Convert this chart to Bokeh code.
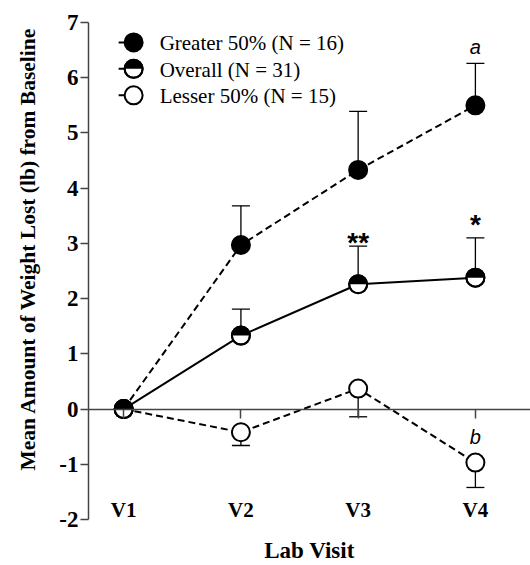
import numpy as np
from bokeh.plotting import figure
from bokeh.models import Range1d, FixedTicker, LinearAxis, Title
from bokeh.core.properties import value
from bokeh.embed import file_html
from bokeh.resources import INLINE

# ---------------- data ----------------
VISITS = ["V1", "V2", "V3", "V4"]
VISIT_X = [1, 2, 3, 4]
GREATER_MEAN = [0.0, 2.97, 4.33, 5.50]
GREATER_SE = [0.0, 0.71, 1.06, 0.76]
OVERALL_MEAN = [0.0, 1.33, 2.26, 2.38]
OVERALL_SE = [0.0, 0.48, 0.69, 0.72]
LESSER_MEAN = [0.0, -0.42, 0.37, -0.97]
LESSER_SE = [0.0, 0.24, 0.51, 0.45]
Y_TICKS = [-2, -1, 0, 1, 2, 3, 4, 5, 6, 7]
Y_TICK_LABELS = ["-2", "-1", "0", "1", "2", "3", "4", "5", "6", "7"]
SERIES_LABELS = ["Greater 50% (N = 16)", "Overall (N = 31)", "Lesser 50% (N = 15)"]
ANNOT_TEXT = ["a", "**", "*", "b"]
ANNOT_SERIES = ["greater", "overall", "overall", "lesser"]
ANNOT_VISIT = [4, 3, 4, 4]
ANNOT_ANCHOR = ["top", "top", "top", "mean"]

# ---------------- styles ----------------
SERIF = value("Liberation Serif")
SANS = value("Liberation Sans")
AXIS_COLOR = "#444444"
MARKER_SIZE = 18
ANNOT_OFFSET = [-16, -4, -13, -26]

X_START, X_END = 0.70, 4.47
Y_START, Y_END = -2, 7

p = figure(width=530, height=565,
           x_range=Range1d(X_START, X_END), y_range=Range1d(Y_START, Y_END),
           output_backend="svg", toolbar_location=None,
           min_border_left=88, min_border_right=0, min_border_top=22, min_border_bottom=46)
p.grid.visible = False
p.outline_line_color = None
p.background_fill_color = "white"
p.border_fill_color = "white"

# y axis
p.yaxis.ticker = FixedTicker(ticks=Y_TICKS)
p.yaxis.major_label_overrides = {t: s for t, s in zip(Y_TICKS, Y_TICK_LABELS)}
p.yaxis.major_label_text_font = "Liberation Serif"
p.yaxis.major_label_text_font_style = "bold"
p.yaxis.major_label_text_font_size = "23px"
p.yaxis.major_label_text_color = "black"
p.yaxis.major_tick_in = 0
p.yaxis.major_tick_out = 8
p.yaxis.major_label_standoff = 2
p.yaxis.minor_tick_line_color = None
p.yaxis.axis_line_color = AXIS_COLOR
p.yaxis.axis_line_width = 1.5
p.yaxis.major_tick_line_color = AXIS_COLOR
p.yaxis.major_tick_line_width = 1.5

ytitle = Title(text="Mean Amount of Weight Lost (lb) from Baseline", align="left",
               vertical_align="top",
               text_font="Liberation Serif", text_font_style="bold", text_color="black",
               text_font_size="21.5px", offset=49, standoff=29)
p.add_layout(ytitle, "left")

# bottom axis (labels only)
p.xaxis.ticker = FixedTicker(ticks=VISIT_X)
p.xaxis.major_label_overrides = {x: lab for x, lab in zip(VISIT_X, VISITS)}
p.xaxis.major_label_text_font = "Liberation Serif"
p.xaxis.major_label_text_font_style = "bold"
p.xaxis.major_label_text_font_size = "21px"
p.xaxis.major_label_text_color = "black"
p.xaxis.major_label_standoff = -22
p.xaxis.major_tick_in = 0
p.xaxis.major_tick_out = 0
p.xaxis.major_tick_line_color = None
p.xaxis.minor_tick_line_color = None
p.xaxis.axis_line_color = None
p.xaxis.axis_label = "Lab Visit"
p.xaxis.axis_label_text_font = "Liberation Serif"
p.xaxis.axis_label_text_font_style = "bold"
p.xaxis.axis_label_text_font_size = "23px"
p.xaxis.axis_label_text_color = "black"
p.xaxis.axis_label_standoff = 13

# zero line axis with ticks
zero_axis = LinearAxis(fixed_location=0, ticker=FixedTicker(ticks=VISIT_X),
                       major_tick_in=0, major_tick_out=9,
                       major_label_text_color=None, major_label_text_font_size="1px",
                       minor_tick_line_color=None,
                       axis_line_color=AXIS_COLOR, axis_line_width=1.5,
                       major_tick_line_color=AXIS_COLOR, major_tick_line_width=1.5)
p.add_layout(zero_axis, "below")

series = {
    "greater": (GREATER_MEAN, GREATER_SE, +1, "7 4"),
    "overall": (OVERALL_MEAN, OVERALL_SE, +1, "solid"),
    "lesser": (LESSER_MEAN, LESSER_SE, -1, "7 4"),
}

# lines
for key in ["greater", "overall", "lesser"]:
    mean, se, sgn, dash = series[key]
    p.line(VISIT_X, mean, line_color="black", line_width=2, line_dash=dash)

# error bars (one-sided)
for key in ["greater", "overall", "lesser"]:
    mean, se, sgn, dash = series[key]
    xs = [x for x, s in zip(VISIT_X, se) if s > 0]
    y0 = [m for m, s in zip(mean, se) if s > 0]
    y1 = [m + sgn * s for m, s in zip(mean, se) if s > 0]
    p.segment(x0=xs, y0=y0, x1=xs, y1=y1, line_color="black", line_width=1.3)
    p.scatter(xs, y1, marker="dash", size=18, line_color="black", line_width=1.3)


def draw_marker(kind, xs, ys):
    if kind == "greater":
        p.scatter(xs, ys, size=MARKER_SIZE, fill_color="black", line_color="black", line_width=2)
    elif kind == "lesser":
        p.scatter(xs, ys, size=MARKER_SIZE, fill_color="white", line_color="black", line_width=2)
    else:
        p.scatter(xs, ys, size=MARKER_SIZE, fill_color="white", line_color="black", line_width=2)
        p.wedge(xs, ys, radius=MARKER_SIZE / 2, radius_units="screen",
                start_angle=0, end_angle=np.pi, fill_color="black", line_color=None)
        p.scatter(xs, ys, size=MARKER_SIZE, fill_color=None, line_color="black", line_width=2)


for key in ["lesser", "greater", "overall"]:
    draw_marker(key, VISIT_X, series[key][0])

# annotations
for txt, ser, vx, anc, off in zip(ANNOT_TEXT, ANNOT_SERIES, ANNOT_VISIT, ANNOT_ANCHOR, ANNOT_OFFSET):
    mean, se, sgn, dash = series[ser]
    i = VISIT_X.index(vx)
    y = mean[i] + (sgn * se[i] if anc == "top" else 0)
    if "*" in txt:
        p.text([vx], [y], text=[txt], text_font=SANS, text_font_style="bold",
               text_font_size="28px", text_align="center", text_baseline="alphabetic",
               y_offset=off, text_color="black")
    else:
        p.text([vx], [y], text=[txt], text_font=SANS, text_font_style="italic",
               text_font_size="20px", text_align="center", text_baseline="alphabetic",
               y_offset=off, text_color="black")

# legend (manual, top-left of frame)
LEG_X = X_START + 0.1021 * (X_END - X_START)
LEG_Y0 = Y_START + 0.9600 * (Y_END - Y_START)
LEG_DY = 0.0533 * (Y_END - Y_START)
for j, key in enumerate(["greater", "overall", "lesser"]):
    ly = LEG_Y0 - j * LEG_DY
    p.ray([LEG_X], [ly], length=15, length_units="screen", angle=np.pi,
          line_color="black", line_width=2)
    draw_marker(key, [LEG_X], [ly])
    p.text([LEG_X], [ly], text=[SERIES_LABELS[j]], text_font=SERIF,
           text_font_size="21px", text_baseline="middle", text_align="left",
           x_offset=26, y_offset=1, text_color="black")

open("out.html", "w").write(file_html(p, INLINE))
